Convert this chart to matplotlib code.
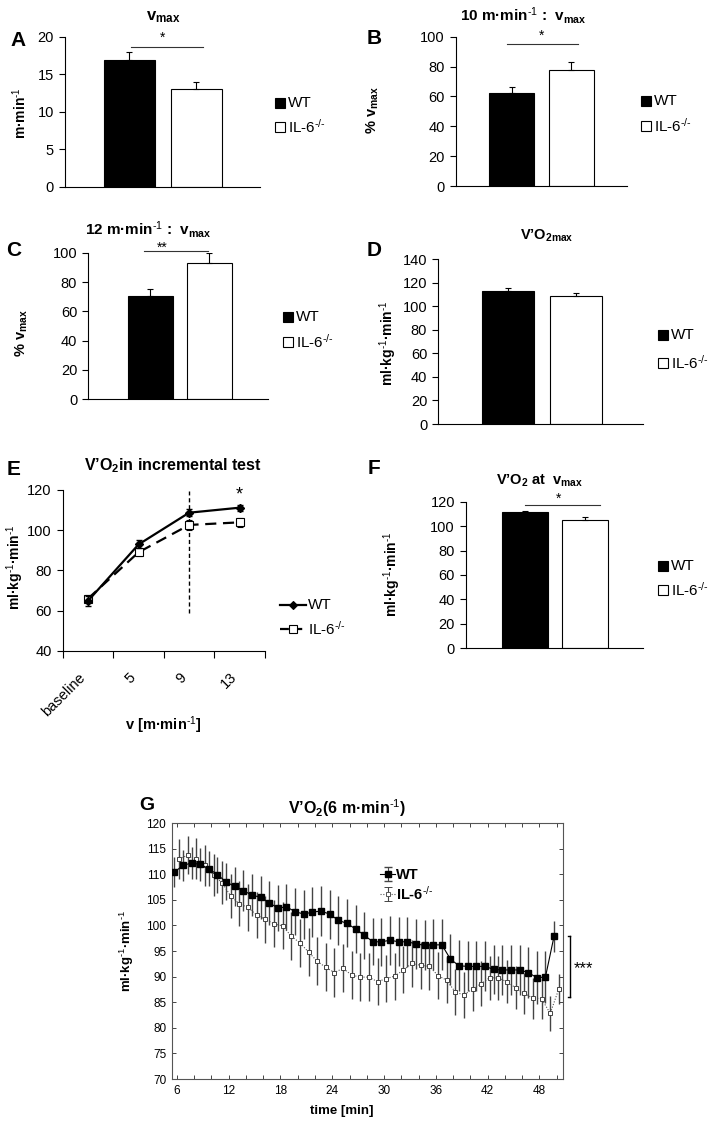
import numpy as np
import matplotlib
matplotlib.use("Agg")
import matplotlib.pyplot as plt
from matplotlib.lines import Line2D

plt.rcParams['font.family'] = ['Liberation Sans', 'DejaVu Sans']
plt.rcParams['mathtext.fontset'] = 'custom'
plt.rcParams['mathtext.rm'] = 'Liberation Sans'
plt.rcParams['mathtext.it'] = 'Liberation Sans:italic'
plt.rcParams['mathtext.bf'] = 'Liberation Sans:bold'
plt.rcParams['mathtext.default'] = 'regular'

# ---- data ----
groups = ['WT', r'IL-6$^{\text{-/-}}$']
per_min = r'min$^{\text{-1}}$'
per_kg = r'ml·kg$^{\text{-1}}$·min$^{\text{-1}}$'

vmax_mean = [16.9, 13.0]
vmax_sem = [1.0, 1.0]

v10_mean = [62.1, 77.7]
v10_sem = [4.4, 5.6]

v12_mean = [70.5, 93.2]
v12_sem = [4.5, 6.8]

vo2max_mean = [113.3, 108.8]
vo2max_sem = [2.0, 2.8]

vo2_vmax_mean = [111.3, 105.0]
vo2_vmax_sem = [1.4, 2.2]

inc_labels = ['baseline', '5', '9', '13']
inc_wt = [64.8, 92.9, 108.7, 111.2]
inc_wt_sem = [2.5, 2.0, 1.8, 1.5]
inc_ko = [65.9, 89.0, 102.6, 103.9]
inc_ko_sem = [2.0, 1.8, 2.5, 2.2]

# V'O2 at 6 m/min, one sample per minute
time_wt = np.arange(45) + 5.7
time_ko = time_wt + 0.55
vo2_wt = [110.4, 111.7, 112.2, 111.9, 111.1, 109.9, 108.5, 107.6, 106.8, 105.9,
          105.5, 104.4, 103.4, 103.6, 102.7, 102.2, 102.6, 102.8, 102.2, 101.0,
          100.4, 99.3, 98.1, 96.8, 96.8, 97.1, 96.8, 96.8, 96.4, 96.1,
          96.2, 96.2, 93.4, 92.1, 92.0, 92.0, 92.0, 91.4, 91.3, 91.3,
          91.3, 90.8, 89.8, 89.9, 97.9]
vo2_wt_sem = [2.9, 3.0, 3.2, 3.3, 3.4, 3.5, 3.6, 3.8, 4.0, 4.1,
              4.2, 4.3, 4.4, 4.5, 4.6, 4.8, 4.9, 4.9, 4.8, 4.8,
              4.7, 4.7, 4.6, 4.6, 4.7, 4.8, 4.8, 4.9, 4.9, 4.9,
              5.0, 5.0, 5.0, 5.0, 4.9, 4.9, 4.9, 4.8, 4.8, 4.8,
              4.9, 5.0, 5.2, 5.1, 3.0]
vo2_ko = [113.0, 113.7, 113.0, 111.7, 109.8, 108.3, 105.7, 104.2, 103.5, 102.0,
          101.2, 100.3, 99.9, 97.9, 96.6, 94.8, 93.0, 91.8, 90.8, 91.6,
          90.3, 89.9, 89.9, 89.0, 89.6, 90.1, 91.3, 92.6, 92.2, 92.0,
          90.2, 89.3, 87.0, 86.4, 87.6, 88.6, 89.8, 89.7, 89.0, 87.8,
          86.7, 85.8, 85.7, 82.8, 87.6]
vo2_ko_sem = [3.9, 3.7, 4.0, 4.0, 4.1, 4.2, 4.3, 4.4, 4.5, 4.5,
              4.6, 4.6, 4.6, 4.7, 4.7, 4.7, 4.7, 4.7, 4.7, 4.7,
              4.7, 4.7, 4.7, 4.6, 4.6, 4.6, 4.6, 4.6, 4.6, 4.6,
              4.6, 4.5, 4.5, 4.5, 4.4, 4.4, 4.3, 4.3, 4.2, 4.2,
              4.1, 4.0, 3.9, 3.5, 3.0]

W, H = 714, 1129
fig = plt.figure(figsize=(W / 100, H / 100), dpi=100)


def add_box(left, right, top, bottom):
    return fig.add_axes([left / W, 1 - bottom / H, (right - left) / W, (bottom - top) / H])


def ftext(x, y, s, **kw):
    kw.setdefault('ha', 'center')
    kw.setdefault('va', 'center')
    fig.text(x / W, 1 - y / H, s, **kw)


def legend_squares(x, y1, y2):
    for y, fc, lab in [(y1, 'black', groups[0]), (y2, 'white', groups[1])]:
        fig.add_artist(Line2D([x / W], [1 - y / H], marker='s', ms=7, mfc=fc,
                              mec='black', mew=0.8, transform=fig.transFigure))
        ftext(x + 8, y, lab, ha='left', fontsize=11)


def bar_panel(ax, vals, errs, ymax, step, xlim):
    xs = [0, 1]
    ax.bar(xs, vals, width=0.76, color=['black', 'white'], edgecolor='black',
           linewidth=0.8, zorder=2)
    ax.errorbar(xs, vals, yerr=[[0, 0], errs], fmt='none', ecolor='black',
                elinewidth=0.8, capsize=2.5, capthick=0.8, zorder=3)
    ax.set_xlim(xlim)
    ax.set_ylim(0, ymax)
    ax.set_yticks(np.arange(0, ymax + 1, step))
    ax.set_xticks([])
    for s in ['top', 'right']:
        ax.spines[s].set_visible(False)
    for s in ['left', 'bottom']:
        ax.spines[s].set_linewidth(0.8)
    ax.tick_params(axis='y', direction='out', length=4, width=0.8, labelsize=10.5, pad=4)
    ax.patch.set_alpha(0)


def sig(ax, x1, x2, y, ys, stars, xs=None):
    ax.plot([x1, x2], [y, y], color='#333333', lw=0.8, clip_on=False)
    ax.text((x1 + x2) / 2 if xs is None else xs, ys, stars, ha='center', va='center',
            fontsize=10, clip_on=False)


# ---- A ----
axA = add_box(65, 260, 36.7, 186.7)
bar_panel(axA, vmax_mean, vmax_sem, 20, 5, (-0.96, 1.95))
sig(axA, 0.02, 1.1, 18.67, 19.9, '*', xs=0.49)
ftext(163, 17, 'v$_{max}$', fontsize=12, fontweight='bold')
ftext(18, 40, 'A', fontsize=15, fontweight='bold')
ftext(20, 113, 'm·' + per_min, rotation=90, fontsize=10, fontweight='bold')
legend_squares(280, 103, 127)

# ---- B ----
axB = add_box(455.7, 626.7, 36.7, 186)
bar_panel(axB, v10_mean, v10_sem, 100, 20, (-0.95, 1.94))
sig(axB, -0.09, 1.11, 95.1, 100.5, '*', xs=0.5)
ftext(523, 16, '10 m·' + per_min + ' :  v$_{max}$', fontsize=11, fontweight='bold')
ftext(374, 38, 'B', fontsize=15, fontweight='bold')
ftext(373, 110, '% v$_{max}$', rotation=90, fontsize=10.5, fontweight='bold')
legend_squares(646, 101, 126)

# ---- C ----
axC = add_box(88.3, 268.3, 252.7, 399.3)
bar_panel(axC, v12_mean, v12_sem, 100, 20, (-1.04, 1.99))
sig(axC, -0.11, 0.98, 100.9, 103.6, '**', xs=0.2)
ftext(148, 229, '12 m·' + per_min + ' :  v$_{max}$', fontsize=11, fontweight='bold')
ftext(14, 251, 'C', fontsize=15, fontweight='bold')
ftext(22, 333, '% v$_{max}$', rotation=90, fontsize=10.5, fontweight='bold')
legend_squares(288, 317, 342)

# ---- D ----
axD = add_box(438.3, 643.3, 259.3, 424)
bar_panel(axD, vo2max_mean, vo2max_sem, 140, 20, (-1.02, 1.99))
ftext(547, 236, 'V’O$_{2max}$', fontsize=10.5, fontweight='bold')
ftext(374, 251, 'D', fontsize=15, fontweight='bold')
ftext(388, 343, per_kg, rotation=90, fontsize=10, fontweight='bold')
legend_squares(663, 335, 363)

# ---- E ----
axE = add_box(62.7, 265, 490, 650.7)
xi = np.arange(len(inc_labels))
axE.axvline(2, ymin=(59 - 40) / 80, ymax=(119.5 - 40) / 80, color='black', lw=1.0,
            ls=(0, (3, 2)), zorder=1)
axE.errorbar(xi, inc_wt, yerr=inc_wt_sem, fmt='-D', color='black', ms=4, lw=1.6,
             elinewidth=0.8, capsize=2, zorder=3)
axE.errorbar(xi, inc_ko, yerr=inc_ko_sem, fmt='s', ls=(0, (5, 3)), color='black',
             mfc='white', ms=6, mew=0.8, lw=1.6, elinewidth=0.8, capsize=2, zorder=2)
axE.text(3, 117.5, '*', ha='center', va='center', fontsize=13)
axE.set_xlim(-0.5, 3.5)
axE.set_ylim(40, 120)
axE.set_yticks(range(40, 121, 20))
axE.set_xticks(np.arange(-0.5, 3.6, 1.0))
axE.set_xticks(xi, minor=True)
axE.set_xticklabels([])
axE.set_xticklabels(inc_labels, minor=True, rotation=45, ha='right', fontsize=10.5)
axE.tick_params(axis='x', which='minor', length=0, pad=14)
axE.tick_params(axis='x', which='major', direction='out', length=5, width=0.8)
axE.tick_params(axis='y', direction='out', length=4, width=0.8, labelsize=10.5, pad=4)
for s in ['top', 'right']:
    axE.spines[s].set_visible(False)
axE.patch.set_alpha(0)
ftext(173, 466, 'V’O$_2$in incremental test', fontsize=11.5, fontweight='bold')
ftext(14, 469, 'E', fontsize=15, fontweight='bold')
ftext(15, 567, per_kg, rotation=90, fontsize=10, fontweight='bold')
ftext(163, 725, 'v [m·' + per_min + ']', fontsize=10.5, fontweight='bold')
for y, ls, mk, mfc, ms, lab in [(605, '-', 'D', 'black', 4, groups[0]),
                                (629, (0, (4, 2)), 's', 'white', 6, groups[1])]:
    fig.add_artist(Line2D([280 / W, 306 / W], [1 - y / H, 1 - y / H], color='black',
                          lw=1.6, ls=ls, transform=fig.transFigure))
    fig.add_artist(Line2D([293 / W], [1 - y / H], marker=mk, ms=ms, mfc=mfc,
                          mec='black', mew=0.8, transform=fig.transFigure))
    ftext(308, y, lab, ha='left', fontsize=11)

# ---- F ----
axF = add_box(466, 643.3, 501.7, 648.3)
bar_panel(axF, vo2_vmax_mean, vo2_vmax_sem, 120, 20, (-0.98, 1.97))
sig(axF, 0.0, 1.25, 117.3, 122.3, '*', xs=0.56)
ftext(540, 481, 'V’O$_2$ at  v$_{max}$', fontsize=10.5, fontweight='bold')
ftext(374, 468, 'F', fontsize=15, fontweight='bold')
ftext(392, 574, per_kg, rotation=90, fontsize=10, fontweight='bold')
legend_squares(663, 566, 590)

# ---- G ----
axG = add_box(171.7, 562.7, 823, 1079)
axG.errorbar(time_wt, vo2_wt, yerr=vo2_wt_sem, fmt='-s', color='black', ms=4,
             mfc='black', mec='black', lw=0.8, ecolor='#444444', elinewidth=1.0,
             capsize=0, zorder=3)
axG.errorbar(time_ko, vo2_ko, yerr=vo2_ko_sem, fmt='s', ls=(0, (1, 1.5)),
             color='#555555', ms=3.5, mfc='white', mec='#444444', mew=0.7, lw=0.8,
             ecolor='#444444', elinewidth=1.0, capsize=0, zorder=2)
h_wt = axG.errorbar([np.nan], [np.nan], yerr=[1], fmt='-s', color='black', ms=4,
                    lw=0.8, ecolor='#444444', elinewidth=0.8, capsize=3)
h_ko = axG.errorbar([np.nan], [np.nan], yerr=[1], fmt='s', ls=(0, (1, 1.5)),
                    color='#555555', ms=3.5, mfc='white', mew=0.7, lw=0.8,
                    ecolor='#444444', elinewidth=0.8, capsize=3)
axG.legend([h_wt, h_ko], groups, loc='upper left', bbox_to_anchor=(0.50, 0.875),
           frameon=False, handlelength=1.0, handletextpad=0.1, labelspacing=0.15,
           prop={'weight': 'bold', 'size': 10.5})
axG.set_xlim(5.4, 50.7)
axG.set_ylim(70, 120)
axG.set_xticks(range(6, 49, 6))
axG.set_xticks(range(6, 51, 2), minor=True)
axG.set_yticks(range(70, 121, 5))
axG.tick_params(which='both', direction='in', top=True, right=True, length=3,
                width=0.7, color='#444444', labelsize=8.5, pad=4)
for s in axG.spines.values():
    s.set_linewidth(0.8)
    s.set_color('#555555')
# significance bracket right of the panel
axG.plot([51.5, 51.5], [98.0, 86.0], color='black', lw=1.0, clip_on=False)
axG.plot([51.3, 51.5], [98.0, 98.0], color='black', lw=1.0, clip_on=False)
axG.plot([51.3, 51.5], [86.0, 86.0], color='black', lw=1.0, clip_on=False)
axG.text(52.0, 91.5, '***', ha='left', va='center', fontsize=12, clip_on=False)
ftext(347, 808, 'V’O$_2$(6 m·' + per_min + ')', fontsize=11.5, fontweight='bold')
ftext(147, 806, 'G', fontsize=14, fontweight='bold')
ftext(127, 951, per_kg, rotation=90, fontsize=9.5, fontweight='bold')
ftext(342, 1111, 'time [min]', fontsize=9.5, fontweight='bold')

fig.savefig('out.png', dpi=100)
